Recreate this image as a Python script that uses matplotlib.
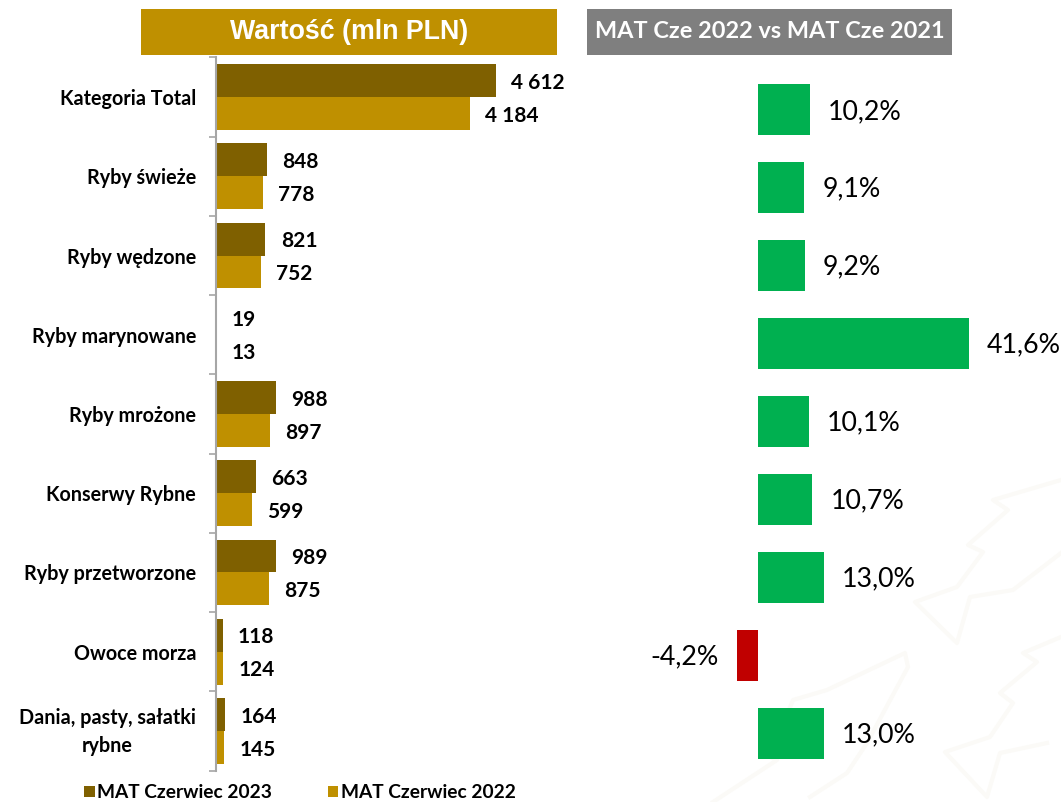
import matplotlib
matplotlib.use("Agg")
import matplotlib.pyplot as plt
from matplotlib.lines import Line2D
from matplotlib.patches import Rectangle
from matplotlib.transforms import ScaledTranslation

# data
categories = ["Kategoria Total", "Ryby świeże", "Ryby wędzone", "Ryby marynowane", "Ryby mrożone",
              "Konserwy Rybne", "Ryby przetworzone", "Owoce morza", "Dania, pasty, sałatki\nrybne"]
mat_2023 = [4612, 848, 821, 19, 988, 663, 989, 118, 164]
mat_2022 = [4184, 778, 752, 13, 897, 599, 875, 124, 145]
change = [10.2, 9.1, 9.2, 41.6, 10.1, 10.7, 13.0, -4.2, 13.0]

W, H = 1061, 802
DARK = "#7F6000"
GOLD = "#BF9000"
GREEN = "#00B050"
RED = "#C00000"
GREY = "#7F7F7F"
AXIS = "#A6A6A6"

# faint fish outlines in the background, in pixels
watermark = [
    [(1061, 480), (993, 500), (1008, 510), (968, 545), (983, 552), (957, 587), (915, 602), (957, 643), (970, 597), (1013, 590), (1061, 553)],
    [(713, 802), (777, 760), (770, 757), (793, 700), (827, 690), (905, 653), (908, 667), (867, 743), (847, 773), (810, 797)],
    [(1061, 637), (1023, 653), (1037, 662), (1000, 693), (1013, 703), (990, 737), (945, 752), (987, 797), (1000, 753), (1047, 743)],
]


def box(x0, y0, x1, y1):
    # pixel box, y from the top, to figure fractions
    return [x0 / W, 1 - y1 / H, (x1 - x0) / W, (y1 - y0) / H]


def label(v):
    return f"{v:,}".replace(",", " ")


def nudge(texts, dy):
    # bar_label has no vertical padding
    for t in texts:
        t.xyann = (t.xyann[0], t.xyann[1] + dy)


plt.rcParams["font.family"] = ["Lato", "DejaVu Sans"]
fig = plt.figure(figsize=(W / 100, H / 100), dpi=100, facecolor="white")

for line in watermark:
    fig.add_artist(Line2D([p[0] / W for p in line], [1 - p[1] / H for p in line], color="#FBFAF7", lw=3,
                          transform=fig.transFigure, zorder=-1))

# headers
fig.add_artist(Rectangle((141 / W, 1 - 55 / H), 416 / W, 46 / H, transform=fig.transFigure, color=GOLD, lw=0))
fig.text(349 / W, 1 - 32 / H, "Wartość (mln PLN)", color="white", fontsize=19.3, fontweight="bold",
         family="Liberation Sans", ha="center", va="center")
fig.add_artist(Rectangle((587 / W, 1 - 55 / H), 365 / W, 46 / H, transform=fig.transFigure, color=GREY, lw=0))
fig.text(769.5 / W, 1 - 32 / H, "MAT Cze 2022 vs MAT Cze 2021", color="white", fontsize=16.9, fontweight="bold",
         ha="center", va="center")

# left panel
ax = fig.add_axes(box(215.5, 57.4, 560, 770.6))
ax.patch.set_alpha(0)
pos = list(range(len(categories)))
h = 0.416
top = ax.barh([p - h / 2 for p in pos], mat_2023, height=h, color=DARK, label="MAT Czerwiec 2023")
low = ax.barh([p + h / 2 for p in pos], mat_2022, height=h, color=GOLD, label="MAT Czerwiec 2022")
t1 = ax.bar_label(top, labels=[label(v) for v in mat_2023], padding=11, fontsize=15, fontweight="bold", clip_on=False)
t2 = ax.bar_label(low, labels=[label(v) for v in mat_2022], padding=11, fontsize=15, fontweight="bold", clip_on=False)
nudge(t1, -1.5)
nudge(t2, -1.5)
ax.set_xlim(0, 344.5 / 0.0608)
ax.set_ylim(len(categories) - 0.5, -0.5)
ax.set_xticks([])
ax.set_yticks([p - 0.5 for p in pos] + [len(categories) - 0.5])
ax.set_yticklabels([])
ax.set_yticks(pos, minor=True)
ax.set_yticklabels(categories, minor=True, fontsize=14.2, fontweight="bold", linespacing=1.5, multialignment="center")
ax.tick_params(axis="y", which="major", length=5, width=1.2, color=AXIS)
ax.tick_params(axis="y", which="minor", length=0, pad=14)
# two line label sits a bit higher
last = ax.get_yticklabels(minor=True)[-1]
last.set_transform(last.get_transform() + ScaledTranslation(0, 3.5 / 72, fig.dpi_scale_trans))
for s in ["top", "right", "bottom"]:
    ax.spines[s].set_visible(False)
ax.spines["left"].set_color(AXIS)
ax.spines["left"].set_linewidth(1.5)

# right panel
ax2 = fig.add_axes(box(600, 71, 1061, 772.5))
ax2.patch.set_alpha(0)
colors = [GREEN if v >= 0 else RED for v in change]
bars = ax2.barh(pos, change, height=0.654, color=colors)
t3 = ax2.bar_label(bars, labels=[f"{v:.1f}%".replace(".", ",") for v in change], padding=13, fontsize=19.3, clip_on=False)
nudge(t3, -1)
ax2.set_xlim((600 - 758) / 5.07, (1061 - 758) / 5.07)
ax2.set_ylim(len(categories) - 0.5, -0.5)
ax2.axis("off")

leg = fig.legend(handles=[top, low], loc="center left", bbox_to_anchor=(84 / W, 1 - 793 / H), ncol=2, frameon=False,
                 prop={"size": 13.8, "weight": "bold"}, handlelength=0.55, handleheight=0.55, handletextpad=0.15,
                 columnspacing=2.9, borderaxespad=0, borderpad=0)

fig.savefig("out.png", dpi=100)
